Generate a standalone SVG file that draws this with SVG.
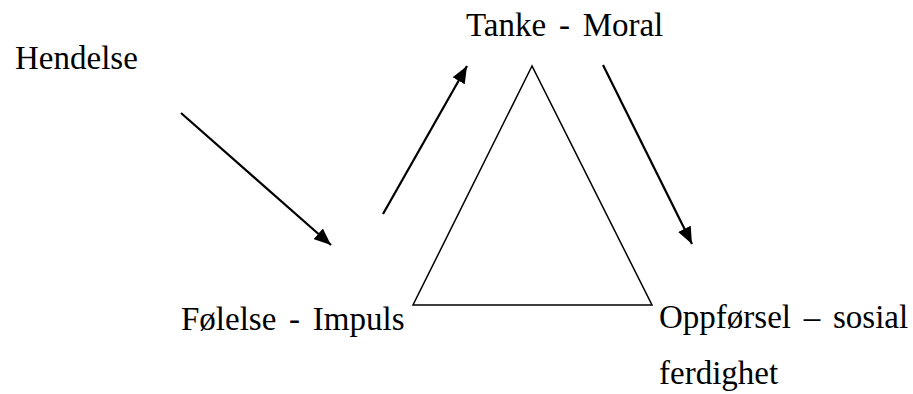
<svg xmlns="http://www.w3.org/2000/svg" width="913" height="394" viewBox="0 0 913 394">
<style>
text{font-family:"Liberation Serif","Times New Roman",serif;font-size:33px;word-spacing:4.5px;fill:#000}
.arr{stroke:#000;stroke-width:2.25;fill:none;marker-end:url(#ah)}
.tri{stroke:#000;stroke-width:1.5;fill:none}
</style>
<defs>
<marker id="ah" markerUnits="userSpaceOnUse" markerWidth="18" markerHeight="14" refX="17" refY="7" orient="auto">
<path d="M0,0 L17,7 L0,14 Z" fill="#000"/>
</marker>
</defs>
<rect width="913" height="394" fill="#fff"/>
<g id="triangle"><polygon class="tri" points="532,66 413,305 652,305"/></g>
<g id="hendelse"><text x="15" y="69">Hendelse</text></g>
<g id="tanke"><text x="466" y="36">Tanke - Moral</text></g>
<g id="folelse"><text x="181" y="330">Følelse - Impuls</text></g>
<g id="oppforsel"><text x="659" y="328">Oppførsel – sosial</text><text x="659" y="384">ferdighet</text></g>
<g id="connectors">
<line class="arr" x1="181" y1="113" x2="331" y2="245"/>
<line class="arr" x1="383" y1="214" x2="467" y2="66"/>
<line class="arr" x1="603" y1="65" x2="692" y2="244"/>
</g>
</svg>
